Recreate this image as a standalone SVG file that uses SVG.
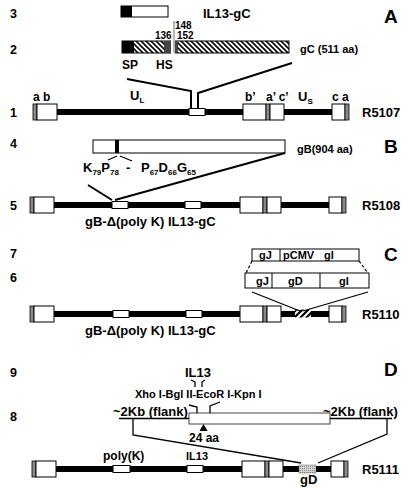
<svg xmlns="http://www.w3.org/2000/svg" width="410" height="488" viewBox="0 0 410 488">
<style>
text{font-family:"Liberation Sans",Arial,sans-serif;font-weight:bold;fill:#000}
.num{font-size:13px}
.rn{font-size:12.5px}
.pl{font-size:19px}
.lab{font-size:11px}
.lab2{font-size:12px}
.sm{font-size:10px}
.big{font-size:13px}
.sub{font-size:8px}
.box{fill:#fff;stroke:#000;stroke-width:1}
.gray{fill:#8a8a8a;stroke:#000;stroke-width:0.8}
.dna{stroke:#000;stroke-width:6}
.ln{fill:none;stroke:#000;stroke-width:2}
.thin{fill:none;stroke:#000;stroke-width:1.3}
.dash{fill:none;stroke:#000;stroke-width:1.2;stroke-dasharray:3 2}
</style>
<defs>
<pattern id="hatch" width="5" height="5" patternUnits="userSpaceOnUse">
<rect width="5" height="5" fill="#fff"/>
<path d="M0,0L5,5M-1,4L1,6M4,-1L6,1" stroke="#000" stroke-width="1.6"/>
</pattern>
<pattern id="hatch2" width="6" height="6" patternUnits="userSpaceOnUse">
<rect width="6" height="6" fill="#fff"/>
<path d="M0,6L6,0M-1,1L1,-1M5,7L7,5" stroke="#000" stroke-width="2.2"/>
</pattern>
<pattern id="dots" width="2" height="2" patternUnits="userSpaceOnUse">
<rect width="2" height="2" fill="#d4d4d4"/>
<rect width="1" height="1" fill="#8a8a8a"/>
</pattern>
<g id="genome">
<line class="dna" x1="55" y1="0" x2="330" y2="0"/>
<rect class="gray" x="31" y="-8" width="4" height="16"/>
<rect class="box" x="35" y="-8" width="20" height="16"/>
<rect class="box" x="241" y="-8" width="23" height="16"/>
<rect class="gray" x="264" y="-8" width="4" height="16"/>
<rect class="box" x="268" y="-8" width="14" height="16"/>
<rect class="box" x="330" y="-8" width="13" height="16"/>
<rect class="gray" x="343" y="-8" width="4" height="16"/>
</g>
</defs>

<!-- Panel A -->
<g id="panelA-labels">
<text class="rn" x="10" y="18">3</text>
<text class="rn" x="10" y="54">2</text>
<text class="rn" x="10" y="117">1</text>
<text class="pl" x="384" y="23">A</text>
</g>
<g id="il13gc-construct">
<rect class="box" x="121" y="6" width="47" height="11"/>
<rect x="121" y="6" width="11" height="11" fill="#000"/>
<text class="big" x="203" y="18">IL13-gC</text>
</g>
<g id="gC-protein">
<rect x="122" y="41" width="167" height="12" fill="url(#hatch)" stroke="#000" stroke-width="1"/>
<rect x="122" y="41" width="12" height="12" fill="#000"/>
<rect x="164" y="41" width="7" height="12" fill="#444"/>
<rect x="171" y="40" width="4" height="14" fill="#fff"/>
<line x1="174" y1="21" x2="174" y2="53" stroke="#888" stroke-width="1.2"/>
<rect x="175" y="41" width="3" height="12" fill="#444"/>
<text class="sm" x="175" y="29">148</text>
<text class="sm" x="155" y="39">136</text>
<text class="sm" x="177" y="39">152</text>
<text class="lab2" x="122" y="69">SP</text>
<text class="lab2" x="156" y="69">HS</text>
<text class="lab" x="300" y="53">gC (511 aa)</text>
</g>
<g id="R5107">
<use href="#genome" transform="translate(2,112)"/>
<rect class="box" x="189" y="108.5" width="16" height="7"/>
<text class="lab2" x="33" y="101">a b</text>
<text class="big" x="130" y="100">U<tspan class="sub" dy="3">L</tspan></text>
<text class="lab2" x="245" y="101">b’</text>
<text class="lab2" x="266" y="101">a’ c’</text>
<text class="big" x="298" y="101">U<tspan class="sub" dy="3">S</tspan></text>
<text class="lab2" x="332" y="101">c a</text>
<text class="num" x="362" y="117">R5107</text>
</g>

<!-- Panel B -->
<g id="panelB-labels">
<text class="rn" x="10" y="148">4</text>
<text class="rn" x="10" y="210">5</text>
<text class="pl" x="384" y="153">B</text>
</g>
<g id="gB-protein">
<rect class="box" x="93" y="140" width="192" height="13"/>
<rect x="115" y="140" width="4" height="13" fill="#000"/>
<text class="lab" x="297" y="153">gB(904 aa)</text>
<text class="big" x="83" y="172">K<tspan class="sub" dy="3">79</tspan><tspan dy="-3">P</tspan><tspan class="sub" dy="3">78</tspan></text>
<text class="big" x="126" y="172">-</text>
<text class="big" x="141" y="172">P<tspan class="sub" dy="3">67</tspan><tspan dy="-3">D</tspan><tspan class="sub" dy="3">66</tspan><tspan dy="-3">G</tspan><tspan class="sub" dy="3">65</tspan></text>
</g>
<g id="R5108">
<use href="#genome" transform="translate(-1,205)"/>
<rect class="box" x="112" y="201.5" width="16" height="7"/>
<rect class="box" x="185" y="201.5" width="16" height="7"/>
<text class="big" x="85" y="226">gB-Δ(poly K) IL13-gC</text>
<text class="num" x="362" y="210">R5108</text>
</g>

<!-- Panel C -->
<g id="panelC-labels">
<text class="rn" x="10" y="258">7</text>
<text class="rn" x="10" y="282">6</text>
<text class="pl" x="384" y="261">C</text>
</g>
<g id="construct7">
<rect class="box" x="252" y="249" width="107" height="12"/>
<line x1="280" y1="249" x2="280" y2="261" stroke="#000"/>
<text class="lab" x="259" y="259">gJ</text>
<text class="lab" x="283" y="259">pCMV</text>
<text class="lab" x="324" y="259">gI</text>
</g>
<g id="construct6">
<rect class="box" x="245" y="273" width="124" height="15"/>
<line x1="272" y1="273" x2="272" y2="288" stroke="#000"/>
<line x1="320" y1="273" x2="320" y2="288" stroke="#000"/>
<text class="lab" x="256" y="285">gJ</text>
<text class="lab" x="288" y="285">gD</text>
<text class="lab" x="339" y="285">gI</text>
</g>
<g id="R5110">
<use href="#genome" transform="translate(-1,314)"/>
<rect class="box" x="113" y="310.5" width="16" height="7"/>
<rect class="box" x="186" y="310.5" width="16" height="7"/>
<rect x="295" y="309.5" width="16" height="8" fill="url(#hatch2)"/>
<text class="big" x="85" y="335">gB-Δ(poly K) IL13-gC</text>
<text class="num" x="362" y="319">R5110</text>
</g>

<!-- Panel D -->
<g id="panelD-labels">
<text class="rn" x="10" y="377">9</text>
<text class="rn" x="10" y="421">8</text>
<text class="pl" x="384" y="376">D</text>
</g>
<g id="construct9">
<text class="big" x="185" y="377">IL13</text>
<text class="lab" x="135" y="398">Xho I-Bgl II-EcoR I-Kpn I</text>
</g>
<g id="construct8">
<rect x="189" y="413" width="141" height="11" fill="#fff" stroke="#444" stroke-width="1"/>
<text class="big" x="113" y="416">~2Kb (flank)</text>
<text class="big" x="323" y="416">~2Kb (flank)</text>
<polygon points="203.5,424 199.5,431 207.5,431" fill="#000"/>
<text class="lab2" x="189" y="442">24 aa</text>
</g>
<g id="R5111">
<use href="#genome" transform="translate(1,469)"/>
<rect class="box" x="113" y="465.5" width="17" height="7"/>
<rect class="box" x="187" y="465.5" width="16" height="7"/>
<rect x="299" y="465" width="17" height="8" fill="url(#dots)" stroke="#666" stroke-width="0.5"/>
<text class="lab2" x="103" y="460">poly(K)</text>
<text class="lab" x="186" y="460">IL13</text>
<text class="big" x="300" y="484">gD</text>
<text class="num" x="362" y="474">R5111</text>
</g>

<!-- Connectors -->
<g id="connectors">
<polyline class="ln" points="127,79 191,91 191,108"/>
<polyline class="ln" points="292,63 198,93 198,108"/>
<line class="thin" x1="108" y1="160" x2="117" y2="156"/>
<line class="thin" x1="120" y1="156" x2="132" y2="161"/>
<line class="ln" x1="88" y1="185" x2="112" y2="200"/>
<line class="ln" x1="285" y1="153" x2="115" y2="200"/>
<line class="dash" x1="252" y1="261" x2="246" y2="273"/>
<line class="dash" x1="359" y1="261" x2="368" y2="273"/>
<line class="thin" x1="252" y1="292" x2="300" y2="311"/>
<line class="thin" x1="368" y1="292" x2="303" y2="311"/>
<polyline class="thin" points="191,380 195,382 195,387"/>
<polyline class="thin" points="205,380 202,382 202,387"/>
<polyline class="thin" points="189,405 197,407 197,413"/>
<polyline class="thin" points="220,402 210,406 210,413"/>
<line class="thin" x1="119" y1="418.5" x2="189" y2="418.5"/>
<line class="thin" x1="330" y1="418.5" x2="392" y2="418.5"/>
<polyline class="thin" points="133,419 133,435 301,463"/>
<polyline class="thin" points="387,419 387,434 318,463"/>
</g>
</svg>
